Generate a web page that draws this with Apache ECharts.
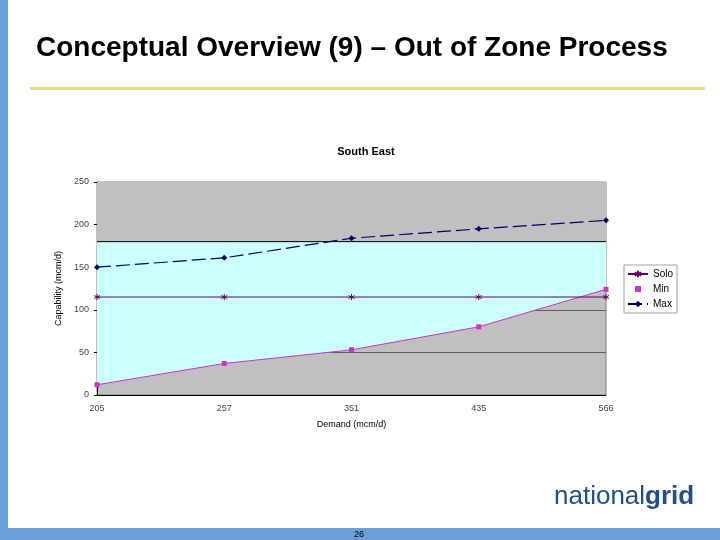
<!DOCTYPE html>
<html><head><meta charset="utf-8">
<script src="https://cdn.jsdelivr.net/npm/echarts@6/dist/echarts.min.js"></script>
<style>html,body{margin:0;padding:0;background:#fff}#c{width:720px;height:540px}</style>
</head><body><div id="c"></div>
<script>
const categories = ['205', '257', '351', '435', '566'];
const solo = [115, 115, 115, 115, 115];
const minVals = [12, 37, 53, 80, 124];
const maxVals = [150, 161, 184, 195, 205];
const capLevel = [180, 180, 180, 180, 180];
const axisTop = [250, 250, 250, 250, 250];

const band = capLevel.map((v, i) => v - minVals[i]);
const topBand = axisTop.map((v, i) => v - capLevel[i]);

const chart = echarts.init(document.getElementById('c'));
const lbl = {color: '#444', fontSize: 9, fontFamily: 'Arial, Liberation Sans'};
const asterisk = 'path://M5,0 L5,10 M0,2.5 L10,7.5 M0,7.5 L10,2.5';
const smallSquare = 'path://M0,0 L0.01,0 Z M20,8 L20,7.99 Z M7,1 L13,1 L13,7 L7,7 Z';
chart.setOption({
  animation: false,
  backgroundColor: '#fff',
  title: {text: 'South East', left: 361, top: 141, textAlign: 'center',
    textStyle: {fontSize: 11, fontWeight: 'bold', color: '#000', fontFamily: 'Arial, Liberation Sans'}},
  grid: {left: 97, right: 114, top: 182, bottom: 145, show: true, backgroundColor: '#C0C0C0', borderColor: '#808080', borderWidth: 1},
  legend: {
    orient: 'vertical', left: 624, top: 265, itemWidth: 20, itemHeight: 8, itemGap: 5,
    padding: [4, 4, 4, 3], borderColor: '#A0A0A0', borderWidth: 1,
    textStyle: {fontSize: 10, color: '#000', fontFamily: 'Arial, Liberation Sans'},
    data: [{name: 'Solo'}, {name: 'Min', icon: smallSquare}, {name: 'Max'}]
  },
  xAxis: {
    type: 'category', data: categories, boundaryGap: false,
    name: 'Demand (mcm/d)', nameLocation: 'middle', nameGap: 25,
    nameTextStyle: {fontSize: 9, color: '#000', fontFamily: 'Arial, Liberation Sans'},
    axisLine: {lineStyle: {color: '#000'}}, axisTick: {show: false},
    axisLabel: Object.assign({margin: 9}, lbl)
  },
  yAxis: {
    type: 'value', min: 0, max: 250, interval: 50,
    name: 'Capability (mcm/d)', nameLocation: 'middle', nameGap: 32,
    nameTextStyle: {fontSize: 9, color: '#000', fontFamily: 'Arial, Liberation Sans'},
    axisLine: {show: true, lineStyle: {color: '#000'}}, axisTick: {show: true, length: 3, lineStyle: {color: '#000'}},
    axisLabel: Object.assign({margin: 8}, lbl),
    splitLine: {show: true, lineStyle: {color: '#606060', width: 1}}
  },
  series: [
    {name: 'Min', type: 'line', data: minVals, stack: 'a', symbol: 'rect', symbolSize: 5,
      itemStyle: {color: '#CC33CC'}, lineStyle: {color: '#CC33CC', width: 1},
      areaStyle: {color: 'rgba(0,0,0,0)'}, z: 5},
    {name: 'band', type: 'line', data: band, stack: 'a', symbol: 'none',
      lineStyle: {color: '#000', width: 1}, areaStyle: {color: '#CCFFFF', opacity: 1}, z: 2},
    {name: 'top', type: 'line', data: topBand, stack: 'a', symbol: 'none',
      lineStyle: {width: 0}, areaStyle: {color: '#C0C0C0', opacity: 1}, z: 2},
    {name: 'Solo', type: 'line', data: solo, symbol: asterisk, symbolSize: 6,
      itemStyle: {color: 'rgba(0,0,0,0)', borderColor: '#660066', borderWidth: 1},
      lineStyle: {color: '#660066', width: 1}, z: 6},
    {name: 'Max', type: 'line', data: maxVals, symbol: 'diamond', symbolSize: 6,
      itemStyle: {color: '#000066'}, lineStyle: {color: '#000066', width: 1.2, type: [14, 5]}, z: 6}
  ],
  graphic: [
    {type: 'rect', shape: {x: 0, y: 0, width: 8, height: 540}, style: {fill: '#6A9FD8'}},
    {type: 'rect', shape: {x: 0, y: 528, width: 720, height: 12}, style: {fill: '#6A9FD8'}},
    {type: 'text', left: 36, top: 34, style: {text: 'Conceptual Overview (9) – Out of Zone Process', font: 'bold 28px Arial, "Liberation Sans"', fill: '#000'}},
    {type: 'rect', shape: {x: 30, y: 87, width: 675, height: 3}, style: {fill: '#F0D880'}},
    {type: 'text', left: 554, top: 484, style: {rich: {a: {font: '26px Arial, "Liberation Sans"', fill: '#1F4E8C'}, b: {font: 'bold 26px Arial, "Liberation Sans"', fill: '#1F4E8C'}}, text: '{a|national}{b|grid}'}},
    {type: 'text', left: 354, top: 530, style: {text: '26', font: '9px Arial, "Liberation Sans"', fill: '#000'}}
  ]
});
</script></body></html>
